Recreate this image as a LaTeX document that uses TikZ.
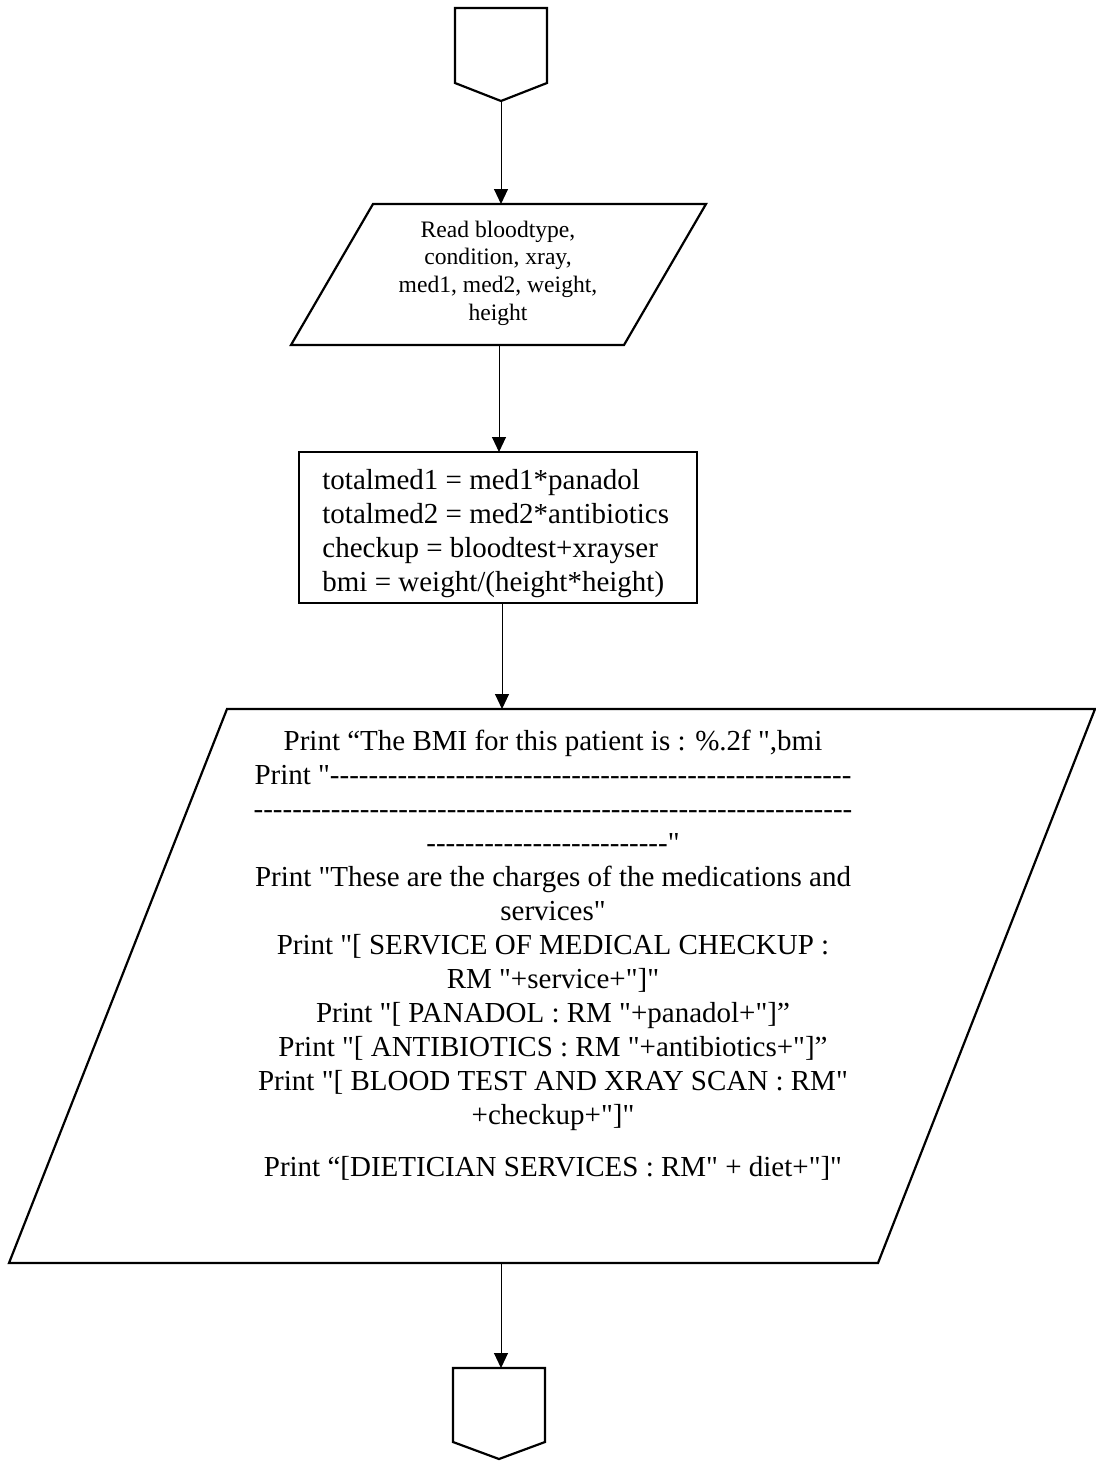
\documentclass[tikz,border=0pt]{standalone}
\usepackage{fontspec}
\setmainfont{Liberation Serif}[Ligatures=TeXOff]
\usetikzlibrary{arrows.meta}
\newcommand{\edgewidth}{1.1pt}
\newcommand{\flowwidth}{0.5pt}
\newcommand{\readfont}{\fontsize{11.8}{13.8}\selectfont}
\newcommand{\bigfont}{\fontsize{14.5}{17}\selectfont}
\newcommand{\dashrun}[1]{\foreach \n in {1,...,#1}{-\kern0pt}}

\begin{document}
\begin{tikzpicture}[x=0.5pt, y=-0.5pt, >={Triangle[width=7pt,length=7.5pt]},
    shape edge/.style={line width=\edgewidth},
    flow/.style={->, line width=\flowwidth}]
        \useasboundingbox (0,0) rectangle (1096,1461);

        % start connector
        \coordinate (startA) at (455,8);
        \coordinate (startB) at (547,8);
        \coordinate (startC) at (547,83);
        \coordinate (startD) at (501,101);
        \coordinate (startE) at (455,83);
        \draw[shape edge] (startA) -- (startB) -- (startC) -- (startD) -- (startE) -- cycle;

        % read box
        \coordinate (readA) at (373,204);
        \coordinate (readB) at (706,204);
        \coordinate (readC) at (624,345);
        \coordinate (readD) at (291,345);
        \coordinate (readIn) at (501,204);
        \coordinate (readOut) at (499,345);
        \draw[shape edge] (readA) -- (readB) -- (readC) -- (readD) -- cycle;
        \node[align=center, font=\readfont, inner sep=0] (readText) at (498,273)
            {Read bloodtype,\\condition, xray,\\med1, med2, weight,\\height};

        % calc box
        \coordinate (calcA) at (299,452);
        \coordinate (calcB) at (697,452);
        \coordinate (calcC) at (697,603);
        \coordinate (calcD) at (299,603);
        \coordinate (calcIn) at (499,452);
        \coordinate (calcOut) at (502,603);
        \draw[shape edge] (calcA) -- (calcB) -- (calcC) -- (calcD) -- cycle;
        \node[align=left, anchor=west, font=\bigfont, inner sep=0] (calcText) at (322,534)
            {totalmed1 = med1*panadol\\totalmed2 = med2*antibiotics\\checkup = bloodtest+xrayser\\bmi = weight/(height*height)};

        % print box
        \coordinate (printA) at (227,709);
        \coordinate (printB) at (1095,709);
        \coordinate (printC) at (878,1263);
        \coordinate (printD) at (9,1263);
        \coordinate (printIn) at (502,709);
        \coordinate (printOut) at (501,1263);
        \draw[shape edge] (printA) -- (printB) -- (printC) -- (printD) -- cycle;
        \node[align=center, font=\bigfont, inner sep=0] (printText) at (553,955)
            {Print “The BMI for this patient is : \%.2f ",bmi\\
             Print "\dashrun{54}\\
             \dashrun{62}\\
             \dashrun{25}"\\
             Print "These are the charges of the medications and\\
             services"\\
             Print "[ SERVICE OF MEDICAL CHECKUP :\\
             RM "+service+"]"\\
             Print "[ PANADOL : RM "+panadol+"]”\\
             Print "[ ANTIBIOTICS : RM "+antibiotics+"]”\\
             Print "[ BLOOD TEST AND XRAY SCAN : RM"\\
             +checkup+"]"\\[9pt]
             Print “[DIETICIAN SERVICES : RM" + diet+"]"};

        % end connector
        \coordinate (endA) at (453,1368);
        \coordinate (endB) at (545,1368);
        \coordinate (endC) at (545,1442);
        \coordinate (endD) at (499,1459);
        \coordinate (endE) at (453,1442);
        \coordinate (endIn) at (501,1368);
        \draw[shape edge] (endA) -- (endB) -- (endC) -- (endD) -- (endE) -- cycle;

        % flow lines
        \draw[flow] (startD) -- (readIn);
        \draw[flow] (readOut) -- (calcIn);
        \draw[flow] (calcOut) -- (printIn);
        \draw[flow] (printOut) -- (endIn);
    \end{tikzpicture}
\end{document}
